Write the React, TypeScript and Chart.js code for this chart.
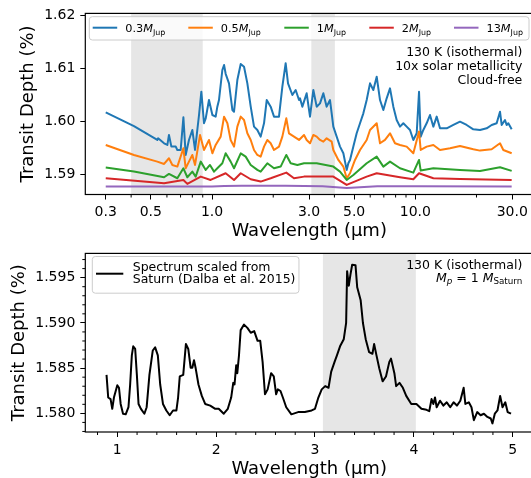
import React, { useEffect, useRef } from 'react';
import { Chart, registerables } from 'chart.js';
Chart.register(...registerables);

const FONT = '"DejaVu Sans", sans-serif';
type Pt = [number, number];

// ---- Top panel: transit depth (%) vs wavelength (um), per planet mass ----
const jup03: Pt[] = [
  [0.300,1.60170],[0.413,1.59910],[0.538,1.59646],[0.543,1.59677],[0.581,1.59583],[0.603,1.59551],[0.614,1.59741],[0.631,1.59520],[0.663,1.59520],[0.675,1.59456],[0.701,1.59456],[0.723,1.60075],[0.742,1.59362],[0.770,1.59646],[0.800,1.59835],[0.825,1.59456],[0.863,1.60119],[0.886,1.60561],[0.913,1.59962],[0.931,1.60056],[0.966,1.60403],[1.004,1.60119],[1.042,1.60088],[1.062,1.60277],[1.082,1.60403],[1.124,1.60972],[1.146,1.61066],[1.167,1.60900],[1.212,1.60719],[1.259,1.60214],[1.283,1.60182],[1.332,1.60782],[1.384,1.61085],[1.437,1.61035],[1.492,1.60719],[1.550,1.60277],[1.609,1.59898],[1.671,1.59835],[1.735,1.59709],[1.802,1.59962],[1.858,1.60403],[1.943,1.60277],[2.018,1.60088],[2.135,1.60088],[2.218,1.60656],[2.303,1.61100],[2.365,1.60719],[2.484,1.60498],[2.579,1.60593],[2.679,1.60403],[2.709,1.60435],[2.782,1.60277],[2.921,1.60530],[3.034,1.60088],[3.151,1.60593],[3.272,1.60277],[3.398,1.60340],[3.528,1.60530],[3.664,1.60277],[3.805,1.60403],[3.878,1.60151],[3.951,1.59898],[4.104,1.59709],[4.262,1.59520],[4.426,1.59393],[4.596,1.59078],[4.684,1.59204],[4.773,1.59267],[4.957,1.59520],[5.147,1.59772],[5.346,1.59962],[5.551,1.60151],[5.765,1.60403],[5.987,1.60719],[6.216,1.60593],[6.457,1.60845],[6.705,1.60403],[6.962,1.60214],[7.230,1.60435],[7.508,1.60624],[7.797,1.60277],[8.097,1.60025],[8.408,1.59898],[8.732,1.59962],[9.069,1.59898],[9.417,1.59835],[9.779,1.59646],[10.16,1.59772],[10.43,1.60561],[10.63,1.59709],[10.95,1.59835],[11.37,1.59962],[11.81,1.60119],[12.27,1.59898],[12.74,1.60088],[13.23,1.59867],[14.27,1.59867],[15.39,1.59930],[16.59,1.59993],[17.89,1.59930],[19.29,1.59848],[20.81,1.59835],[22.44,1.59867],[23.75,1.59930],[25.13,1.59962],[26.10,1.60182],[26.60,1.59930],[27.62,1.60025],[28.14,1.59930],[28.68,1.59962],[29.79,1.59848]
];
const jup05: Pt[] = [
  [0.300,1.59551],[0.413,1.59362],[0.538,1.59235],[0.581,1.59191],[0.614,1.59299],[0.638,1.59172],[0.675,1.59141],[0.723,1.59488],[0.742,1.59109],[0.770,1.59235],[0.800,1.59362],[0.825,1.59172],[0.873,1.59741],[0.913,1.59456],[0.966,1.59646],[1.004,1.59393],[1.042,1.59551],[1.103,1.59709],[1.146,1.60088],[1.190,1.59962],[1.235,1.59646],[1.283,1.59520],[1.332,1.59898],[1.384,1.60088],[1.437,1.60025],[1.492,1.59772],[1.550,1.59646],[1.609,1.59456],[1.671,1.59362],[1.735,1.59330],[1.802,1.59520],[1.871,1.59646],[1.943,1.59583],[2.018,1.59456],[2.135,1.59520],[2.218,1.59709],[2.320,1.60056],[2.391,1.59772],[2.531,1.59709],[2.679,1.59646],[2.835,1.59741],[2.921,1.59646],[3.034,1.59583],[3.151,1.59741],[3.272,1.59709],[3.398,1.59646],[3.528,1.59614],[3.664,1.59677],[3.878,1.59614],[3.951,1.59456],[4.182,1.59267],[4.426,1.59141],[4.596,1.58920],[4.773,1.59015],[5.051,1.59267],[5.346,1.59456],[5.765,1.59646],[5.987,1.59835],[6.457,1.59962],[6.705,1.59583],[7.095,1.59646],[7.508,1.59772],[7.946,1.59583],[8.408,1.59551],[9.069,1.59520],[9.779,1.59393],[10.43,1.59804],[10.63,1.59456],[11.37,1.59520],[12.27,1.59551],[13.23,1.59456],[14.82,1.59488],[16.59,1.59532],[19.29,1.59469],[20.81,1.59444],[23.75,1.59469],[26.10,1.59583],[27.10,1.59456],[29.79,1.59393]
];
const jup1: Pt[] = [
  [0.300,1.59122],[0.413,1.59046],[0.581,1.58939],[0.614,1.59002],[0.675,1.58920],[0.723,1.59109],[0.756,1.58939],[0.800,1.59046],[0.831,1.58951],[0.880,1.59235],[0.931,1.59078],[0.977,1.59172],[1.023,1.59046],[1.062,1.59109],[1.124,1.59204],[1.167,1.59393],[1.235,1.59235],[1.283,1.59109],[1.384,1.59393],[1.464,1.59330],[1.550,1.59172],[1.671,1.59078],[1.735,1.59046],[1.871,1.59204],[2.018,1.59109],[2.176,1.59141],[2.320,1.59362],[2.437,1.59204],[2.629,1.59172],[2.835,1.59204],[3.272,1.59204],[3.951,1.59141],[4.262,1.59046],[4.596,1.58888],[4.957,1.58983],[5.765,1.59204],[6.457,1.59330],[6.962,1.59141],[7.508,1.59235],[8.408,1.59109],[9.779,1.59027],[10.43,1.59267],[10.63,1.59065],[12.27,1.59109],[16.59,1.59078],[20.81,1.59059],[26.10,1.59128],[29.79,1.59059]
];
const jup2: Pt[] = [
  [0.300,1.58920],[0.581,1.58825],[0.723,1.58888],[0.756,1.58813],[0.880,1.58951],[0.984,1.58888],[1.167,1.59015],[1.283,1.58888],[1.384,1.59015],[1.550,1.58901],[1.735,1.58857],[1.943,1.58920],[2.320,1.59027],[2.531,1.58920],[2.835,1.58951],[3.951,1.58951],[4.596,1.58794],[5.765,1.58951],[6.457,1.59015],[8.408,1.58939],[9.779,1.58901],[10.43,1.59015],[12.27,1.58920],[16.59,1.58907],[29.79,1.58888]
];
const jup13: Pt[] = [
  [0.300,1.58762],[1.000,1.58765],[1.150,1.58775],[1.400,1.58778],[2.300,1.58780],[3.500,1.58770],[4.600,1.58735],[6.500,1.58768],[10.40,1.58770],[29.79,1.58762]
];

// ---- Bottom panel: spectrum scaled from Saturn ----
const saturn: Pt[] = [
  [0.891,1.58426],[0.908,1.58175],[0.932,1.58158],[0.949,1.58050],[0.966,1.58175],[1.000,1.58311],[1.017,1.58283],[1.034,1.58104],[1.058,1.57996],[1.085,1.57989],[1.113,1.58068],[1.130,1.58319],[1.147,1.58641],[1.161,1.58741],[1.181,1.58712],[1.198,1.58426],[1.215,1.58104],[1.239,1.58050],[1.274,1.57996],[1.297,1.58068],[1.325,1.58426],[1.359,1.58695],[1.383,1.58730],[1.410,1.58641],[1.434,1.58319],[1.462,1.58104],[1.496,1.58032],[1.530,1.57979],[1.564,1.58032],[1.598,1.58032],[1.615,1.58175],[1.632,1.58408],[1.667,1.58426],[1.694,1.58766],[1.718,1.58712],[1.742,1.58505],[1.759,1.58505],[1.776,1.58587],[1.793,1.58498],[1.821,1.58319],[1.855,1.58193],[1.889,1.58104],[1.940,1.58086],[1.991,1.58050],[2.026,1.58050],[2.077,1.57996],[2.118,1.58050],[2.152,1.58175],[2.173,1.58337],[2.186,1.58319],[2.203,1.58533],[2.214,1.58444],[2.231,1.58641],[2.248,1.58920],[2.282,1.58981],[2.316,1.58945],[2.350,1.58891],[2.385,1.58909],[2.419,1.58802],[2.446,1.58802],[2.470,1.58569],[2.494,1.58211],[2.521,1.58265],[2.556,1.58444],[2.583,1.58408],[2.607,1.58211],[2.624,1.58265],[2.651,1.58247],[2.675,1.58175],[2.709,1.58068],[2.761,1.57989],[2.829,1.58014],[2.897,1.58014],[2.966,1.58032],[3.000,1.58050],[3.034,1.58175],[3.068,1.58265],[3.103,1.58301],[3.137,1.58283],[3.164,1.58462],[3.198,1.58569],[3.222,1.58641],[3.256,1.58748],[3.291,1.58820],[3.315,1.58999],[3.325,1.59572],[3.342,1.59411],[3.359,1.59536],[3.376,1.59643],[3.410,1.59636],[3.427,1.59393],[3.462,1.59249],[3.485,1.58999],[3.513,1.58820],[3.547,1.58677],[3.581,1.58659],[3.598,1.58766],[3.622,1.58641],[3.650,1.58498],[3.684,1.58354],[3.718,1.58408],[3.752,1.58569],[3.769,1.58605],[3.803,1.58444],[3.821,1.58301],[3.855,1.58337],[3.889,1.58283],[3.923,1.58193],[3.974,1.58104],[4.026,1.58104],[4.077,1.58050],[4.128,1.58039],[4.156,1.58025],[4.179,1.58158],[4.197,1.58104],[4.214,1.58175],[4.231,1.58068],[4.265,1.58140],[4.299,1.58086],[4.333,1.58122],[4.368,1.58068],[4.402,1.58122],[4.436,1.58086],[4.470,1.58140],[4.504,1.58283],[4.521,1.58104],[4.556,1.58122],[4.583,1.58068],[4.607,1.57925],[4.641,1.58014],[4.675,1.57979],[4.709,1.57996],[4.744,1.57961],[4.778,1.57943],[4.795,1.57889],[4.819,1.57996],[4.846,1.58032],[4.873,1.58193],[4.897,1.58068],[4.925,1.58122],[4.949,1.58014],[4.983,1.57996]
];

// ---- ticks / bands ----
const topXTicks = [0.3, 0.5, 1, 3, 5, 10, 30];
const topXMinor = [0.4, 0.6, 0.7, 0.8, 0.9, 2, 4, 6, 7, 8, 9, 20];
const topYTicks = [1.59, 1.6, 1.61, 1.62];
const topBands: Pt[] = [[0.4, 0.9], [3.08, 4.02]];
const botXTicks = [1, 2, 3, 4, 5];
const botXMinor = [0.8, 1.2, 1.4, 1.6, 1.8, 2.2, 2.4, 2.6, 2.8, 3.2, 3.4, 3.6, 3.8, 4.2, 4.4, 4.6, 4.8, 5.2];
const botYTicks = [1.58, 1.585, 1.59, 1.595];
const botYMinor = [1.578, 1.579, 1.581, 1.582, 1.583, 1.584, 1.586, 1.587, 1.588, 1.589, 1.591, 1.592, 1.593, 1.594, 1.596, 1.597];
const botBands: Pt[] = [[3.08, 4.02]];

const COLORS = ['#1f77b4', '#ff7f0e', '#2ca02c', '#d62728', '#9467bd'];
const massLabels = ['0.3', '0.5', '1', '2', '13'];
const topAnnot = ['130 K (isothermal)', '10x solar metallicity', 'Cloud-free'];

type Part = { t: string; it?: boolean; sub?: boolean };
const fontFor = (p: Part, size: number) =>
  `${p.it ? 'italic ' : ''}${p.sub ? size * 0.7 : size}px ${FONT}`;
function richWidth(ctx: CanvasRenderingContext2D, parts: Part[], size: number) {
  let w = 0;
  for (const p of parts) { ctx.font = fontFor(p, size); w += ctx.measureText(p.t).width; }
  return w;
}
function drawRich(ctx: CanvasRenderingContext2D, parts: Part[], x: number, y: number, size: number, align: 'left' | 'right') {
  const total = richWidth(ctx, parts, size);
  let cx = align === 'right' ? x - total : x;
  ctx.textAlign = 'left';
  ctx.textBaseline = 'alphabetic';
  ctx.fillStyle = '#000';
  for (const p of parts) {
    ctx.font = fontFor(p, size);
    ctx.fillText(p.t, cx, p.sub ? y + size * 0.2 : y);
    cx += ctx.measureText(p.t).width;
  }
  return total;
}
const toXY = (arr: Pt[]) => arr.map(([x, y]) => ({ x, y }));

// legend entry anchor positions (px) in the top panel
const topLegendStarts = [92.7, 188.3, 284.3, 369.3, 454];

function makeDecor(kind: 'top' | 'bottom') {
  return {
    id: 'decor-' + kind,
    beforeDatasetsDraw(chart: any) {
      const { ctx, chartArea: a, scales } = chart;
      ctx.save();
      ctx.fillStyle = '#e6e6e6';
      for (const [b0, b1] of kind === 'top' ? topBands : botBands) {
        const x0 = scales.x.getPixelForValue(b0);
        const x1 = scales.x.getPixelForValue(b1);
        ctx.fillRect(x0, a.top, x1 - x0, a.bottom - a.top);
      }
      ctx.restore();
    },
    afterDatasetsDraw(chart: any) {
      const { ctx, chartArea: a, scales } = chart;
      ctx.save();
      ctx.strokeStyle = '#000';
      ctx.lineWidth = 1.2;
      ctx.strokeRect(a.left, a.top, a.right - a.left, a.bottom - a.top);
      ctx.lineWidth = 1;
      ctx.beginPath();
      for (const v of kind === 'top' ? topXMinor : botXMinor) {
        const px = scales.x.getPixelForValue(v);
        if (px < a.left || px > a.right) continue;
        ctx.moveTo(px, a.bottom); ctx.lineTo(px, a.bottom + 3);
      }
      if (kind === 'bottom') {
        for (const v of botYMinor) {
          const py = scales.y.getPixelForValue(v);
          ctx.moveTo(a.left - 3, py); ctx.lineTo(a.left, py);
        }
      }
      ctx.stroke();

      const size = 12.5;
      if (kind === 'top') {
        const lsize = 11.3;
        const items = massLabels.map((m) => [{ t: m }, { t: 'M', it: true }, { t: 'Jup', sub: true }] as Part[]);
        ctx.fillStyle = 'rgba(255,255,255,0.8)';
        ctx.strokeStyle = '#cccccc';
        ctx.lineWidth = 1;
        ctx.beginPath();
        ctx.roundRect(89.3, 16.7, 529 - 89.3, 23.3, 3);
        ctx.fill(); ctx.stroke();
        items.forEach((p, i) => {
          const sx = topLegendStarts[i];
          ctx.strokeStyle = COLORS[i];
          ctx.lineWidth = 2;
          ctx.beginPath();
          ctx.moveTo(sx, 27.7); ctx.lineTo(sx + 24.5, 27.7);
          ctx.stroke();
          drawRich(ctx, p, sx + 32.5, 32.3, lsize, 'left');
        });
        const ys = [55.5, 69.7, 83.9];
        topAnnot.forEach((t, i) => drawRich(ctx, [{ t }], 522.3, ys[i], size, 'right'));
      } else {
        const l1: Part[] = [{ t: 'Spectrum scaled from' }];
        const l2: Part[] = [{ t: 'Saturn (Dalba et al. 2015)' }];
        const tw = Math.max(richWidth(ctx, l1, size), richWidth(ctx, l2, size));
        const right = 132.7 + tw + 3.5;
        ctx.fillStyle = 'rgba(255,255,255,0.8)';
        ctx.strokeStyle = '#cccccc';
        ctx.lineWidth = 1;
        ctx.beginPath();
        ctx.roundRect(92.3, 16.5, right - 92.3, 36.7, 3);
        ctx.fill(); ctx.stroke();
        ctx.strokeStyle = '#000';
        ctx.lineWidth = 2;
        ctx.beginPath();
        ctx.moveTo(96, 33.7); ctx.lineTo(123.3, 33.7);
        ctx.stroke();
        drawRich(ctx, l1, 132.7, 30.5, size, 'left');
        drawRich(ctx, l2, 132.7, 43.2, size, 'left');
        drawRich(ctx, [{ t: '130 K (isothermal)' }], 522.3, 28.5, size, 'right');
        drawRich(ctx, [{ t: 'M', it: true }, { t: 'p', it: true, sub: true }, { t: ' = 1 ' }, { t: 'M', it: true }, { t: 'Saturn', sub: true }], 522.3, 41.5, size, 'right');
      }
      ctx.restore();
    },
  };
}

const tickFont = { family: FONT, size: 14 };
const titleFont = { family: FONT, size: 18, lineHeight: 1 };

export default function App() {
  const topRef = useRef<HTMLCanvasElement>(null);
  const botRef = useRef<HTMLCanvasElement>(null);

  useEffect(() => {
    const series = [jup03, jup05, jup1, jup2, jup13];
    const top = new Chart(topRef.current!, {
      type: 'line',
      data: {
        datasets: series.map((s, i) => ({
          label: massLabels[i],
          data: toXY(s),
          borderColor: COLORS[i],
          backgroundColor: COLORS[i],
          order: 5 - i,
        })),
      },
      options: {
        animation: false,
        responsive: false,
        events: [],
        layout: { padding: { left: 0, top: 13.3, right: 1, bottom: 0 } },
        plugins: { legend: { display: false }, tooltip: { enabled: false } },
        elements: { point: { radius: 0 }, line: { borderWidth: 2, tension: 0, borderJoinStyle: 'round' } },
        scales: {
          x: {
            type: 'logarithmic', min: 0.238, max: 37.93,
            afterFit: (s: any) => { s.height = 45.5; },
            afterBuildTicks: (s: any) => { s.ticks = topXTicks.map((v) => ({ value: v })); },
            ticks: { autoSkip: false, maxRotation: 0, padding: 4, color: '#000', font: tickFont, callback: (v: any) => Number(v).toFixed(1) },
            grid: { drawOnChartArea: false, drawTicks: true, tickLength: 5, color: '#000' },
            border: { display: false },
            title: { display: true, text: 'Wavelength (\u03bcm)', color: '#000', font: titleFont, padding: { top: 0, bottom: 0 } },
          },
          y: {
            type: 'linear', min: 1.58612, max: 1.62045,
            afterFit: (s: any) => { s.width = 85.3; },
            afterBuildTicks: (s: any) => { s.ticks = topYTicks.map((v) => ({ value: v })); },
            ticks: { autoSkip: false, padding: 5, color: '#000', font: tickFont, callback: (v: any) => Number(v).toFixed(2) },
            grid: { drawOnChartArea: false, drawTicks: true, tickLength: 5, color: '#000' },
            border: { display: false },
            title: { display: true, text: 'Transit Depth (%)', color: '#000', font: titleFont, padding: { top: 19.7, bottom: 0 } },
          },
        },
      } as any,
      plugins: [makeDecor('top')],
    });

    const bot = new Chart(botRef.current!, {
      type: 'line',
      data: {
        datasets: [{ label: 'Saturn', data: toXY(saturn), borderColor: '#000', backgroundColor: '#000' }],
      },
      options: {
        animation: false,
        responsive: false,
        events: [],
        layout: { padding: { left: 0, top: 10, right: 1, bottom: 0 } },
        plugins: { legend: { display: false }, tooltip: { enabled: false } },
        elements: { point: { radius: 0 }, line: { borderWidth: 2, tension: 0, borderJoinStyle: 'round' } },
        scales: {
          x: {
            type: 'linear', min: 0.6763, max: 5.2054,
            afterFit: (s: any) => { s.height = 46; },
            afterBuildTicks: (s: any) => { s.ticks = botXTicks.map((v) => ({ value: v })); },
            ticks: { autoSkip: false, maxRotation: 0, padding: 5, color: '#000', font: tickFont, callback: (v: any) => String(v) },
            grid: { drawOnChartArea: false, drawTicks: true, tickLength: 5, color: '#000' },
            border: { display: false },
            title: { display: true, text: 'Wavelength (\u03bcm)', color: '#000', font: titleFont, padding: { top: 0, bottom: 0 } },
          },
          y: {
            type: 'linear', min: 1.57794, max: 1.59768,
            afterFit: (s: any) => { s.width = 85.3; },
            afterBuildTicks: (s: any) => { s.ticks = botYTicks.map((v) => ({ value: v })); },
            ticks: { autoSkip: false, padding: 5, color: '#000', font: tickFont, callback: (v: any) => Number(v).toFixed(3) },
            grid: { drawOnChartArea: false, drawTicks: true, tickLength: 5, color: '#000' },
            border: { display: false },
            title: { display: true, text: 'Transit Depth (%)', color: '#000', font: titleFont, padding: { top: 10.4, bottom: 0 } },
          },
        },
      } as any,
      plugins: [makeDecor('bottom')],
    });

    return () => { top.destroy(); bot.destroy(); };
  }, []);

  return (
    <div style={{ position: 'fixed', left: 0, top: 0, width: 531, height: 478, overflow: 'hidden', background: '#fff' }}>
      <div style={{ position: 'absolute', left: 0, top: 0, width: 534, height: 240 }}>
        <canvas ref={topRef} width={534} height={240} style={{ width: 534, height: 240, display: 'block' }} />
      </div>
      <div style={{ position: 'absolute', left: 0, top: 240, width: 534, height: 238 }}>
        <canvas ref={botRef} width={534} height={238} style={{ width: 534, height: 238, display: 'block' }} />
      </div>
    </div>
  );
}
